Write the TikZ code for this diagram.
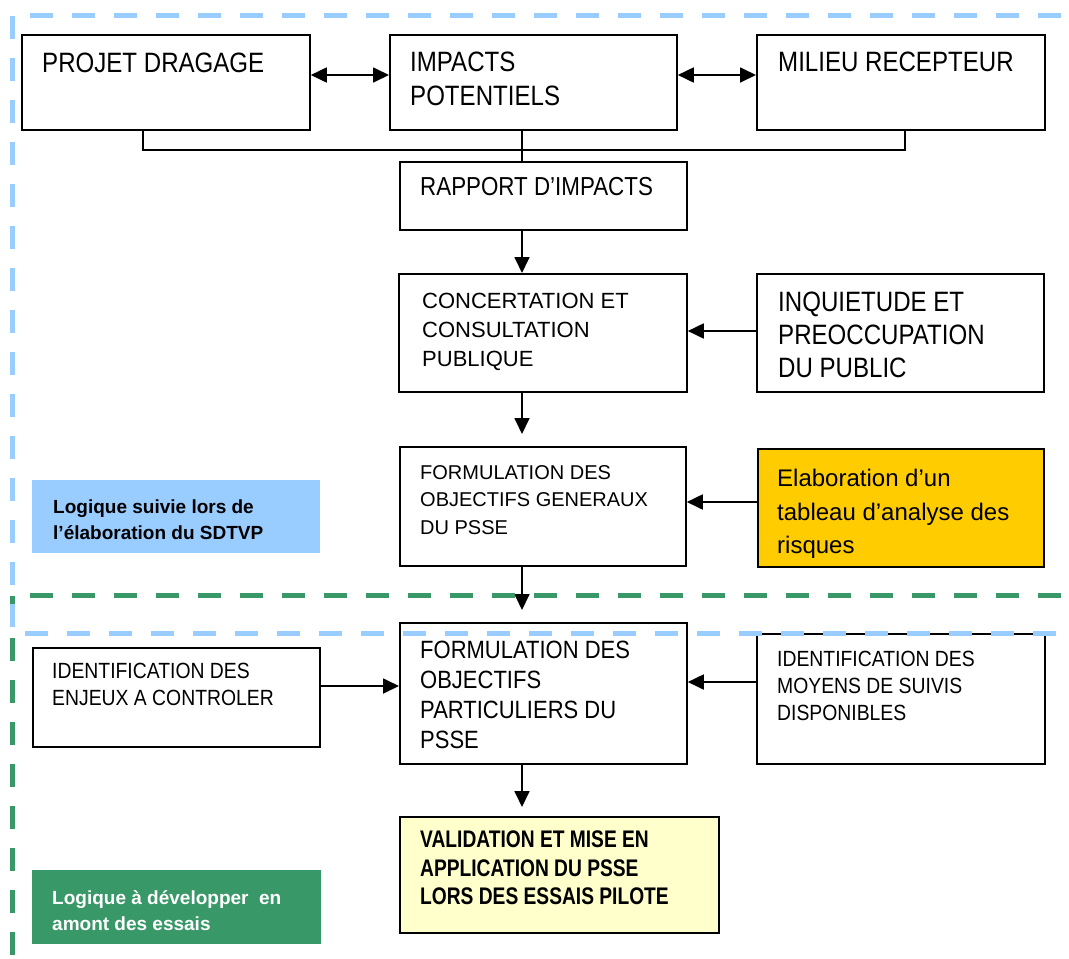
\documentclass[tikz,border=0pt]{standalone}
\usepackage{fontspec}
\setmainfont{Liberation Sans}
\newfontfamily\fN{Liberation Sans}
\newfontfamily\fS{Liberation Sans}[FakeStretch=0.86]
\newfontfamily\fT{Liberation Sans}[FakeStretch=0.88]
\newfontfamily\fV{Liberation Sans}[FakeStretch=0.80]
\usetikzlibrary{arrows.meta,calc}
\definecolor{lblue}{HTML}{99CCFF}
\definecolor{dgreen}{HTML}{389868}
\definecolor{myGold}{HTML}{FFCC00}
\definecolor{lyell}{HTML}{FFFFCC}
\newcommand\Bx[6]{\node[box,#6,anchor=north west,minimum width={#4pt-#2pt},minimum height={#5pt-#3pt}] (#1) at (#2,#3) {};}
\begin{document}
\begin{tikzpicture}[x=1pt,y=-1pt,
  box/.style={draw, line width=1.8pt, fill=white, inner sep=0pt},
  lab/.style={draw=none, inner sep=0pt},
  txt/.style={anchor=north west, inner sep=0pt, align=left},
  arr/.style={line width=1.8pt, -{Triangle[length=16pt,width=15pt]}},
  darr/.style={line width=1.8pt, {Triangle[length=16pt,width=15pt]}-{Triangle[length=16pt,width=15pt]}},
  link/.style={line width=1.8pt},
  bluedash/.style={line width=5pt, lblue, dash pattern=on 23pt off 19pt, dash phase=23pt},
  greendash/.style={line width=5pt, dgreen, dash pattern=on 23pt off 19pt, dash phase=23pt}]
\useasboundingbox (0,0) rectangle (1069,959);
\fill[white] (0,0) rectangle (1069,959);
% boxes
\Bx{pd}{21}{34}{309}{129}{}
\Bx{ip}{389}{34}{676}{129}{}
\Bx{mr}{756}{34}{1044}{129}{}
\Bx{rap}{399}{161}{686}{229}{}
\Bx{con}{398}{273}{686}{391}{}
\Bx{inq}{756}{273}{1043}{391}{}
\Bx{fgen}{399}{446}{685}{565}{}
\Bx{ela}{757}{448}{1043}{566}{fill=myGold}
\Bx{lab1}{31}{479}{319}{552}{lab,fill=lblue}
\Bx{enj}{32}{647}{319}{746}{}
\Bx{fpar}{399}{622}{686}{763}{}
\Bx{moy}{756}{633}{1044}{763}{}
\Bx{val}{399}{816}{718}{932}{fill=lyell}
\Bx{lab2}{31}{869}{320}{943}{lab,fill=dgreen}
% texts
\node[txt,font=\fS\fontsize{28}{34}\selectfont] (tpd) at (42,53) {PROJET DRAGAGE};
\node[txt,font=\fS\fontsize{28}{34}\selectfont] (tip) at (410,52) {IMPACTS\\POTENTIELS};
\node[txt,font=\fS\fontsize{28}{34}\selectfont] (tmr) at (778,52) {MILIEU RECEPTEUR};
\node[txt,font=\fS\fontsize{26}{30}\selectfont] (trap) at (420,177) {RAPPORT D’IMPACTS};
\node[txt,font=\fN\fontsize{22}{29}\selectfont] (tcon) at (422,293) {CONCERTATION ET\\CONSULTATION\\PUBLIQUE};
\node[txt,font=\fS\fontsize{28}{33}\selectfont] (tinq) at (778,292) {INQUIETUDE ET\\PREOCCUPATION\\DU PUBLIC};
\node[txt,font=\fN\fontsize{20}{27.5}\selectfont] (tfgen) at (420,465) {FORMULATION DES\\OBJECTIFS GENERAUX\\DU PSSE};
\node[txt,font=\fN\fontsize{24}{33.5}\selectfont] (tela) at (777,469) {Elaboration d’un\\tableau d’analyse des\\risques};
\node[txt,font=\fN\bfseries\fontsize{19}{26}\selectfont] (tlab1) at (53,500) {Logique suivie lors de\\l’élaboration du SDTVP};
\node[txt,font=\fT\fontsize{22}{27}\selectfont] (tenj) at (52,663) {IDENTIFICATION DES\\ENJEUX A CONTROLER};
\node[txt,font=\fT\fontsize{25}{30}\selectfont] (tfpar) at (420,641) {FORMULATION DES\\OBJECTIFS\\PARTICULIERS DU\\PSSE};
\node[txt,font=\fT\fontsize{22}{27}\selectfont] (tmoy) at (777,651) {IDENTIFICATION DES\\MOYENS DE SUIVIS\\DISPONIBLES};
\node[txt,font=\fV\bfseries\fontsize{24}{28.5}\selectfont] (tval) at (420,831) {VALIDATION ET MISE EN\\APPLICATION DU PSSE\\LORS DES ESSAIS PILOTE};
\node[txt,font=\fN\bfseries\fontsize{19}{26}\selectfont,text=white] (tlab2) at (52,890) {Logique à développer\ \ en\\amont des essais};
% helper coordinates
\coordinate (col) at (522,0);
\coordinate (pdx) at (143,0);
\coordinate (mrx) at (905,0);
\coordinate (bus) at (0,150);
\coordinate (row1) at (0,75);
\coordinate (rowc) at (0,331);
\coordinate (rowg) at (0,502);
\coordinate (rowe) at (0,686);
\coordinate (rowm) at (0,682);
% connectors
\draw[darr] (pd.east |- row1) -- (ip.west |- row1);
\draw[darr] (ip.east |- row1) -- (mr.west |- row1);
\draw[link] (pdx |- pd.south) -- (pdx |- bus) -- (mrx |- bus) -- (mrx |- mr.south);
\draw[link] (col |- ip.south) -- (col |- rap.north);
\draw[arr] (col |- rap.south) -- (col |- con.north);
\draw[arr] (inq.west |- rowc) -- (con.east |- rowc);
\draw[arr, shorten >=12pt] (col |- con.south) -- (col |- fgen.north);
\draw[arr] (ela.west |- rowg) -- (fgen.east |- rowg);
\draw[arr, shorten >=12pt] (col |- fgen.south) -- (col |- fpar.north);
\draw[arr] (enj.east |- rowe) -- (fpar.west |- rowe);
\draw[arr] (moy.west |- rowm) -- (fpar.east |- rowm);
\draw[arr, shorten >=9pt] (col |- fpar.south) -- (col |- val.north);
% dashed zones
\draw[greendash] (1080,595) -- (12,595) -- (12,975);
\draw[bluedash] (1080,15) -- (12,15) -- (12,633) -- (1080,633);
\end{tikzpicture}
\end{document}
